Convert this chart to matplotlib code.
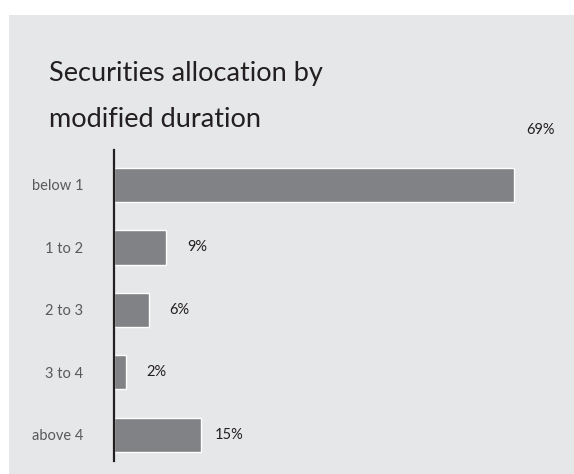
import matplotlib
matplotlib.use('Agg')
import matplotlib.pyplot as plt
from matplotlib.patches import Rectangle

categories = ['below 1', '1 to 2', '2 to 3', '3 to 4', 'above 4']
values = [69, 9, 6, 2, 15]
labels = ['69%', '9%', '6%', '2%', '15%']

plt.rcParams['font.family'] = ['Lato', 'DejaVu Sans']

fig = plt.figure(figsize=(5.74, 4.74), dpi=100)
fig.patch.set_facecolor('white')
# grey panel
fig.add_artist(Rectangle((9 / 574, 0), 1, 1 - 15 / 474, transform=fig.transFigure,
                         facecolor='#e6e7e8', edgecolor='none', zorder=-5))

ax = fig.add_axes([114 / 574, 13 / 474, 460 / 574, 311 / 474])
ax.set_zorder(2)
ax.set_facecolor('none')

y = list(range(len(categories)))
ax.barh(y, values, height=0.55, color='#808285', edgecolor='white', linewidth=1)

ax.set_xlim(0, 460 / 5.8)
ax.set_ylim(4.42, -0.56)
ax.set_yticks(y)
ax.set_yticklabels(categories, fontsize=10.5, color='#58595b')
ax.tick_params(axis='y', length=0, pad=22)
ax.set_xticks([])
for s in ['top', 'right', 'bottom']:
    ax.spines[s].set_visible(False)
ax.spines['left'].set_color('#231f20')
ax.spines['left'].set_linewidth(1.6)

# value labels
offsets = [0, 21, 20, 21, 14]
for i, (v, lab) in enumerate(zip(values, labels)):
    if i == 0:
        # the top label sits above the bar at the right
        ax.annotate(lab, xy=(v, i), xytext=(12, 55), textcoords='offset pixels',
                    ha='left', va='center', fontsize=10.5, color='#231f20',
                    annotation_clip=False)
    else:
        ax.annotate(lab, xy=(v, i), xytext=(offsets[i], 0), textcoords='offset pixels',
                    ha='left', va='center', fontsize=10.5, color='#231f20')

fig.text(49 / 574, 1 - 61 / 474, 'Securities allocation by\nmodified duration',
         ha='left', va='top', fontsize=19.5, color='#231f20',
         linespacing=2.05)

fig.savefig('out.png', dpi=100)
